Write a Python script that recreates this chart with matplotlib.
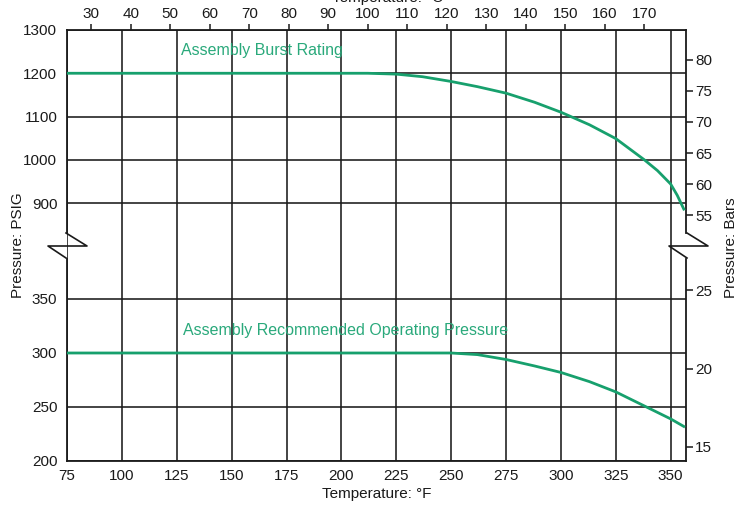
import matplotlib
matplotlib.use("Agg")
import matplotlib.pyplot as plt
from matplotlib.lines import Line2D

plt.rcParams["font.family"] = ["Liberation Sans", "DejaVu Sans"]

# ---------------------------------------------------------------------------
# Data
# ---------------------------------------------------------------------------
burst_temp_f = [75, 212, 225, 237, 250, 262, 275, 288, 300, 313, 325, 338, 344, 350, 353, 356]
burst_psi = [1200, 1200, 1198, 1192, 1181, 1169, 1154, 1133, 1110, 1081, 1049, 1000, 975, 944, 918, 886]

oper_temp_f = [75, 250, 262, 275, 288, 300, 313, 325, 341, 350, 356]
oper_psi = [300, 300, 298.5, 294, 288, 282, 273.5, 264, 248, 239, 232]

f_ticks = [75, 100, 125, 150, 175, 200, 225, 250, 275, 300, 325, 350]
c_ticks = [30, 40, 50, 60, 70, 80, 90, 100, 110, 120, 130, 140, 150, 160, 170]
psi_ticks_upper = [900, 1000, 1100, 1200, 1300]
psi_ticks_lower = [200, 250, 300, 350]
bar_ticks_upper = [55, 60, 65, 70, 75, 80]
bar_ticks_lower = [15, 20, 25]

GREEN = "#17a06d"
TEXT_GREEN = "#2aa97b"
INK = "#1a1a1a"
W, H = 735, 505


def fx(px):
    return px / W


def fy(py):
    return 1 - py / H


fig = plt.figure(figsize=(7.35, 5.05), dpi=100)
left, right = 67, 686
ax_up = fig.add_axes([fx(left), fy(245), fx(right) - fx(left), fy(30) - fy(245)])
ax_lo = fig.add_axes([fx(left), fy(461), fx(right) - fx(left), fy(245) - fy(461)])

xlim = (75, 357)
for ax in (ax_up, ax_lo):
    ax.set_xlim(*xlim)
    ax.set_xticks(f_ticks)
    ax.grid(True, color=INK, linewidth=1.15)
    ax.set_axisbelow(True)
    ax.tick_params(axis="both", length=0, labelsize=11, colors=INK)
    ax.tick_params(axis="y", pad=7)
    ax.tick_params(axis="x", pad=6)
    for s in ax.spines.values():
        s.set_linewidth(1.3)
        s.set_color(INK)

ax_up.set_ylim(803, 1300)
ax_up.set_yticks(psi_ticks_upper)
ax_up.tick_params(labelbottom=False)
ax_up.spines["bottom"].set_visible(False)
ax_up.spines["left"].set_bounds(830, 1300)
ax_up.spines["right"].set_bounds(830, 1300)

ax_lo.set_ylim(200, 400)
ax_lo.set_yticks(psi_ticks_lower)
ax_lo.spines["top"].set_visible(False)
ax_lo.spines["left"].set_bounds(200, 387)
ax_lo.spines["right"].set_bounds(200, 387)

# curves
ax_up.plot(burst_temp_f, burst_psi, color=GREEN, linewidth=2.0, zorder=3)
ax_lo.plot(oper_temp_f, oper_psi, color=GREEN, linewidth=2.0, zorder=3)

ax_up.text(127, 1243, "Assembly Burst Rating", color=TEXT_GREEN,
           fontsize=11.5, ha="left", va="baseline")
ax_lo.text(128, 317, "Assembly Recommended Operating Pressure", color=TEXT_GREEN,
           fontsize=11.5, ha="left", va="baseline")

# top axis in Celsius
sec = ax_up.secondary_xaxis("top", functions=(lambda f: (f - 32) / 1.8,
                                               lambda c: c * 1.8 + 32))
sec.set_xticks(c_ticks)
sec.tick_params(direction="out", length=4.5, width=1.1, pad=2, labelsize=11,
                colors=INK)
sec.spines["top"].set_visible(False)

# right axes in bars
for host, lim, ticks in ((ax_up, (50.2, 84.8), bar_ticks_upper),
                         (ax_lo, (14.1, 27.9), bar_ticks_lower)):
    tw = host.twinx()
    tw.set_ylim(*lim)
    tw.set_yticks(ticks)
    tw.tick_params(direction="out", length=5, width=1.1, pad=1.5, labelsize=11,
                   colors=INK)
    for s in tw.spines.values():
        s.set_visible(False)

# break marks on both vertical spines
for sx in (66, 687):
    xs = [sx, sx + 21, sx - 18, sx]
    ys = [233, 246, 246, 258]
    fig.add_artist(Line2D([fx(v) for v in xs], [fy(v) for v in ys],
                          color=INK, linewidth=1.2))

# axis titles (the scan crops the right and top ones at the edge)
fig.text(fx(18), fy(245), "Pressure: PSIG", rotation=90, ha="center",
         va="center", fontsize=11, color=INK)
fig.text(fx(731), fy(248), "Pressure: Bars", rotation=90, ha="center",
         va="center", fontsize=11, color=INK)
fig.text(fx(377), fy(498), "Temperature: °F", ha="center", va="baseline",
         fontsize=11, color=INK)
fig.text(fx(388), fy(2), "Temperature: °C", ha="center", va="baseline",
         fontsize=11, color=INK)

fig.savefig("out.png", dpi=100, facecolor="white")
